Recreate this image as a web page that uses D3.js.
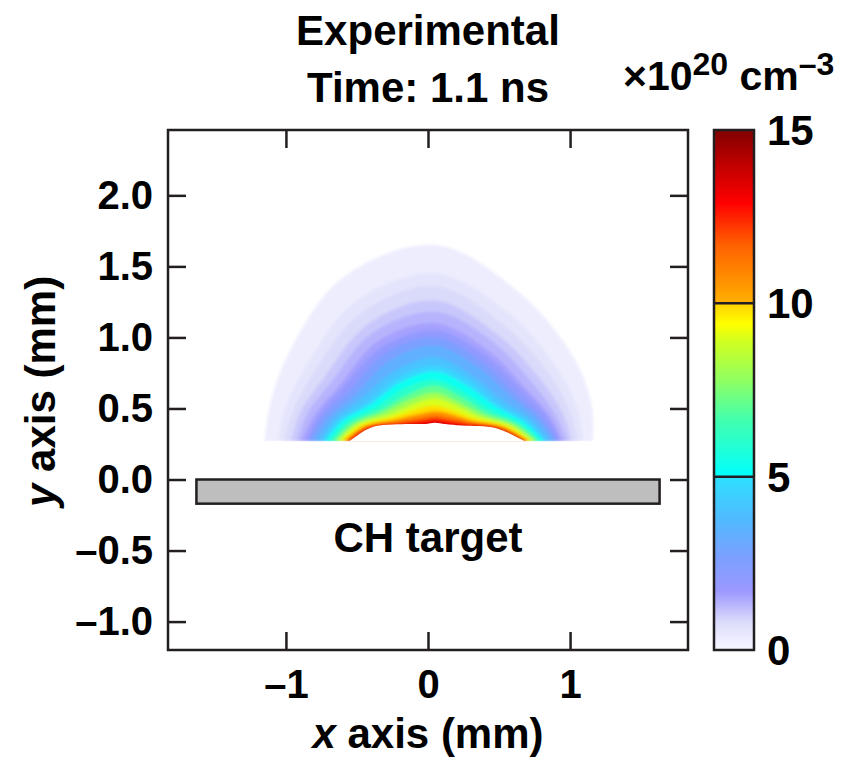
<!DOCTYPE html>
<html>
<head>
<meta charset="utf-8">
<script src="https://cdn.jsdelivr.net/npm/d3@7"></script>
<style>
  body { margin: 0; background: #fff; }
  text { font-family: "Liberation Sans", Arial, Helvetica, sans-serif; font-weight: bold; fill: #000; }
</style>
</head>
<body>
<svg id="chart"></svg>
<script>
// ---- data ----
const xTicks = [-1, 0, 1];
const yTicks = [-1.0, -0.5, 0.0, 0.5, 1.0, 1.5, 2.0];
const cbTicks = [0, 5, 10, 15];

// colour map (value in 1e20 cm^-3 -> colour)
const cmapValues = [0, 0.8, 1.7, 2.7, 3.7, 4.99, 5.0, 6.6, 7.8, 8.9, 9.4, 9.99, 10.0, 11.7, 12.9, 14.0, 15];
const cmapColors = ['#f7f7ff', '#dcdcfb', '#9c98ff', '#7aa0ff', '#52b8ff', '#2ee0ff', '#00ffff', '#40ffb0',
                    '#90ff60', '#d0ff20', '#ffff00', '#ffd000', '#ffb000', '#ff6000', '#ff0000', '#c00000', '#800000'];

// plume: density contours, given as radius (mm) along rays from the base centre
const plumeOrigin = [0.05, 0.27];
const rayAngles = [0, 12, 30, 60, 90, 120, 150, 168, 180];
const levels = [0.15, 0.45, 0.7, 0.95, 1.2, 1.45, 1.7, 2.3, 3.0, 3.7, 4.4, 4.95, 5.6, 6.6, 7.6, 8.6, 9.4, 10.2, 11.2, 12.2, 13.2];
const levelRadii = [
  [1.11, 1.13, 1.14, 1.20, 1.38, 1.32, 1.20, 1.19, 1.20],
  [1.04, 1.03, 1.00, 1.04, 1.18, 1.13, 1.05, 1.08, 1.10],
  [1.00, 0.97, 0.93, 0.95, 1.09, 1.04, 0.98, 1.02, 1.06],
  [0.96, 0.92, 0.86, 0.87, 0.99, 0.95, 0.90, 0.97, 1.01],
  [0.93, 0.87, 0.80, 0.81, 0.91, 0.88, 0.84, 0.92, 0.97],
  [0.90, 0.83, 0.74, 0.74, 0.83, 0.81, 0.78, 0.87, 0.94],
  [0.88, 0.81, 0.71, 0.70, 0.78, 0.76, 0.75, 0.84, 0.91],
  [0.86, 0.77, 0.66, 0.65, 0.73, 0.71, 0.70, 0.81, 0.89],
  [0.84, 0.74, 0.62, 0.60, 0.67, 0.65, 0.65, 0.77, 0.86],
  [0.81, 0.70, 0.56, 0.53, 0.59, 0.57, 0.60, 0.73, 0.82],
  [0.78, 0.67, 0.52, 0.49, 0.53, 0.52, 0.55, 0.70, 0.79],
  [0.77, 0.64, 0.49, 0.45, 0.49, 0.48, 0.52, 0.67, 0.77],
  [0.75, 0.61, 0.45, 0.40, 0.43, 0.43, 0.48, 0.64, 0.75],
  [0.73, 0.59, 0.41, 0.36, 0.39, 0.38, 0.44, 0.61, 0.72],
  [0.71, 0.56, 0.38, 0.32, 0.34, 0.34, 0.41, 0.58, 0.70],
  [0.69, 0.54, 0.35, 0.29, 0.30, 0.30, 0.37, 0.56, 0.68],
  [0.68, 0.51, 0.32, 0.25, 0.25, 0.26, 0.34, 0.53, 0.66],
  [0.66, 0.49, 0.29, 0.22, 0.21, 0.22, 0.31, 0.51, 0.64],
  [0.65, 0.47, 0.27, 0.19, 0.18, 0.19, 0.28, 0.49, 0.63],
  [0.64, 0.46, 0.25, 0.17, 0.16, 0.17, 0.26, 0.48, 0.61],
  [0.63, 0.45, 0.23, 0.15, 0.14, 0.15, 0.25, 0.46, 0.60]
];
// empty region under the dense shell
const domeRadii = [0.63, 0.44, 0.22, 0.14, 0.13, 0.14, 0.24, 0.46, 0.60];

// CH target slab (mm)
const targetX = [-1.63, 1.63];
const targetY = [-0.17, 0.0];

// ---- layout ----
const width = 867, height = 770;
const plot = { left: 168, right: 688, top: 130, bottom: 650 };
const cbar = { left: 714, right: 754 };
const tickLen = 18;

const svg = d3.select('#chart').attr('width', width).attr('height', height);

const x = d3.scaleLinear().domain([-1.83, 1.83]).range([plot.left, plot.right]);
const y = d3.scaleLinear().domain([-1.2, 2.46]).range([plot.bottom, plot.top]);
const cb = d3.scaleLinear().domain([0, 15]).range([plot.bottom, plot.top]);
const color = d3.scaleLinear().domain(cmapValues).range(cmapColors).interpolate(d3.interpolateRgb);

const dash = d => (d < 0 ? '\u2013' : '') + Math.abs(d);
const dashF = d => (d < 0 ? '\u2013' : '') + d3.format('.1f')(Math.abs(d));

const defs = svg.append('defs');
defs.append('filter')
  .attr('id', 'soft')
  .attr('x', '-10%').attr('y', '-10%').attr('width', '120%').attr('height', '120%')
  .append('feGaussianBlur').attr('stdDeviation', 1.6);
defs.append('clipPath').attr('id', 'abovebase')
  .append('rect')
  .attr('x', plot.left).attr('y', plot.top)
  .attr('width', plot.right - plot.left)
  .attr('height', y(plumeOrigin[1]) - plot.top);

// ---- plume ----
const toPoints = radii => rayAngles.map((a, j) => {
  const t = a * Math.PI / 180;
  return [plumeOrigin[0] + radii[j] * Math.cos(t), plumeOrigin[1] + radii[j] * Math.sin(t)];
});
const arch = d3.line()
  .x(d => x(d[0]))
  .y(d => y(d[1]))
  .curve(d3.curveCatmullRom.alpha(0.5));

const plume = svg.append('g').attr('clip-path', 'url(#abovebase)')
  .append('g').attr('filter', 'url(#soft)');
plume.selectAll('path.level')
  .data(levels)
  .join('path')
  .attr('class', 'level')
  .attr('d', (d, i) => arch(toPoints(levelRadii[i])) + 'Z')
  .attr('fill', (d, i) => color((d + (i + 1 < levels.length ? levels[i + 1] : 13.8)) / 2));

svg.append('path')
  .attr('d', arch(toPoints(domeRadii)) + 'Z')
  .attr('fill', '#fff');

// ---- target ----
svg.append('rect')
  .attr('x', x(targetX[0]))
  .attr('y', y(targetY[1]))
  .attr('width', x(targetX[1]) - x(targetX[0]))
  .attr('height', y(targetY[0]) - y(targetY[1]))
  .attr('fill', '#bebebe')
  .attr('stroke', '#231f20')
  .attr('stroke-width', 2.5);

svg.append('text')
  .attr('x', x(0))
  .attr('y', y(-0.51))
  .attr('text-anchor', 'middle')
  .attr('font-size', 42)
  .text('CH target');

// ---- axes ----
function styleAxis(g, size) {
  g.attr('font-size', null).attr('font-family', null);
  g.select('.domain').remove();
  g.selectAll('.tick line').attr('stroke', '#231f20').attr('stroke-width', 2.5);
  g.selectAll('.tick text').attr('font-size', size).attr('fill', '#000');
}

svg.append('g')
  .attr('transform', `translate(0,${plot.bottom})`)
  .call(d3.axisBottom(x).tickValues(xTicks).tickSize(-tickLen).tickPadding(20).tickFormat(dash))
  .call(g => styleAxis(g, 40));

svg.append('g')
  .attr('transform', `translate(0,${plot.top})`)
  .call(d3.axisTop(x).tickValues(xTicks).tickSize(-tickLen).tickFormat(''))
  .call(g => styleAxis(g, 40));

svg.append('g')
  .attr('transform', `translate(${plot.left},0)`)
  .call(d3.axisLeft(y).tickValues(yTicks).tickSize(-tickLen).tickPadding(15).tickFormat(dashF))
  .call(g => styleAxis(g, 40));

svg.append('g')
  .attr('transform', `translate(${plot.right},0)`)
  .call(d3.axisRight(y).tickValues(yTicks).tickSize(-tickLen).tickFormat(''))
  .call(g => styleAxis(g, 40));

svg.append('rect')
  .attr('x', plot.left).attr('y', plot.top)
  .attr('width', plot.right - plot.left).attr('height', plot.bottom - plot.top)
  .attr('fill', 'none').attr('stroke', '#231f20').attr('stroke-width', 2.5);

// axis titles
const xt = svg.append('text')
  .attr('x', x(0)).attr('y', 748)
  .attr('text-anchor', 'middle').attr('font-size', 42);
xt.append('tspan').attr('font-style', 'italic').text('x');
xt.append('tspan').text(' axis (mm)');

const yt = svg.append('text')
  .attr('transform', `translate(55,${y(0.62)}) rotate(-90)`)
  .attr('text-anchor', 'middle').attr('font-size', 42);
yt.append('tspan').attr('font-style', 'italic').text('y');
yt.append('tspan').text(' axis (mm)');

// ---- titles ----
svg.append('text').attr('x', x(0)).attr('y', 45)
  .attr('text-anchor', 'middle').attr('font-size', 42).text('Experimental');
svg.append('text').attr('x', x(0)).attr('y', 102)
  .attr('text-anchor', 'middle').attr('font-size', 42).text('Time: 1.1 ns');

const units = svg.append('text').attr('x', 623).attr('y', 90).attr('font-size', 41);
units.append('tspan').text('\u00d710');
units.append('tspan').attr('font-size', 32).attr('dy', -15).text('20');
units.append('tspan').attr('dy', 15).text(' cm');
units.append('tspan').attr('font-size', 32).attr('dy', -15).text('\u20133');

// ---- colour bar ----
const grad = defs.append('linearGradient')
  .attr('id', 'cbgrad')
  .attr('x1', 0).attr('y1', 1).attr('x2', 0).attr('y2', 0);
grad.selectAll('stop')
  .data(cmapValues)
  .join('stop')
  .attr('offset', d => d / 15)
  .attr('stop-color', (d, i) => cmapColors[i]);

svg.append('rect')
  .attr('x', cbar.left).attr('y', cb(15))
  .attr('width', cbar.right - cbar.left).attr('height', cb(0) - cb(15))
  .attr('fill', 'url(#cbgrad)')
  .attr('stroke', '#231f20').attr('stroke-width', 2.5);

svg.selectAll('line.cbline')
  .data(cbTicks.filter(d => d > 0 && d < 15))
  .join('line')
  .attr('class', 'cbline')
  .attr('x1', cbar.left).attr('x2', cbar.right)
  .attr('y1', d => cb(d)).attr('y2', d => cb(d))
  .attr('stroke', '#231f20').attr('stroke-width', 2.5);

svg.selectAll('text.cblabel')
  .data(cbTicks)
  .join('text')
  .attr('class', 'cblabel')
  .attr('x', 767)
  .attr('y', d => cb(d))
  .attr('dy', '0.36em')
  .attr('font-size', 42)
  .text(d => d);
</script>
</body>
</html>
